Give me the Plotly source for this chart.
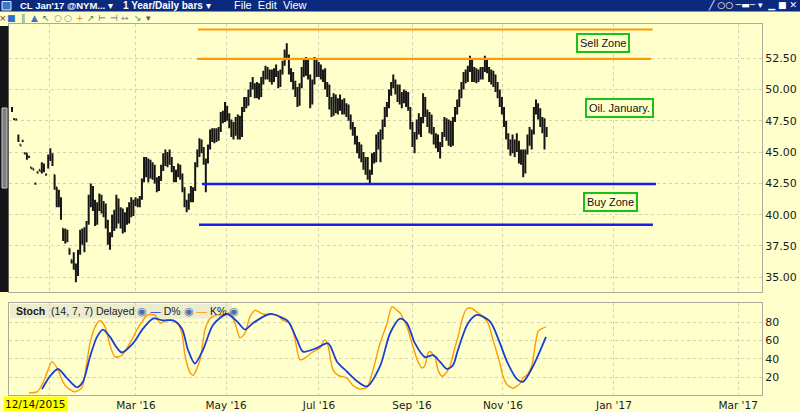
import plotly.graph_objects as go

# ---------------- data ----------------
first_date = "12/14/2015"

bar_open = [
    48.5, 47.65, 47.6, 46.2, 45.6, 45.9, 44.9, 44.9, 44.6, 43.8,
    43.7, 42.5, 43.4, 43.6, 43.4, 43.9, 43.2, 44.0, 44.6, 44.8,
    43.2, 42.2, 41.5, 41.0, 38.9, 38.0, 38.7, 37.3, 36.4, 36.0,
    35.8, 35.3, 37.0, 38.5, 37.9, 38.8, 39.4, 41.2, 41.9, 40.6,
    39.4, 40.9, 41.4, 40.4, 40.6, 39.2, 37.9, 38.5, 39.8, 39.0,
    41.1, 39.6, 40.3, 38.8, 39.9, 39.5, 40.8, 40.1, 41.0, 40.9,
    41.1, 41.4, 42.8, 44.3, 43.4, 44.2, 43.2, 43.9, 42.7, 42.1,
    42.9, 43.8, 44.6, 44.2, 44.8, 44.3, 43.6, 42.9, 43.4, 43.8,
    43.0, 42.0, 40.8, 40.6, 41.5, 41.3, 42.0, 44.0, 45.0, 45.8,
    45.2, 44.3, 44.2, 45.4, 46.5, 46.1, 46.7, 46.0, 46.8, 47.9,
    47.6, 48.6, 47.8, 47.2, 46.5, 47.2, 46.6, 47.8, 46.3, 48.4,
    49.2, 48.8, 49.7, 50.4, 50.2, 49.6, 50.3, 49.5, 50.8, 51.2,
    51.7, 51.0, 51.4, 50.7, 51.5, 51.3, 50.4, 51.4, 52.1, 52.9,
    52.7, 51.4, 50.9, 50.3, 49.7, 48.8, 50.3, 51.5, 51.3, 52.4,
    51.0, 49.0, 50.5, 52.2, 51.3, 51.9, 51.1, 51.4, 50.2, 49.6,
    48.6, 48.0, 49.4, 48.3, 49.0, 48.5, 48.9, 48.2, 48.6, 47.7,
    47.0, 46.6, 45.9, 45.2, 45.4, 44.4, 43.8, 44.4, 43.1, 43.3,
    44.6, 44.3, 46.1, 45.5, 46.4, 47.3, 48.4, 48.7, 49.8, 50.3,
    50.6, 49.8, 50.2, 49.0, 49.6, 49.2, 49.6, 48.5, 47.0, 45.7,
    46.3, 47.4, 46.7, 47.5, 49.2, 48.1, 47.3, 47.9, 46.6, 45.8,
    46.2, 45.3, 45.6, 46.4, 47.5, 46.1, 47.3, 45.6, 47.6, 48.4,
    48.9, 49.7, 50.4, 51.2, 50.8, 51.7, 52.2, 50.9, 51.5, 50.8,
    51.4, 51.0, 51.6, 52.3, 51.6, 50.9, 51.3, 50.5, 50.0, 49.6,
    48.9, 48.3, 47.2, 46.3, 45.4, 45.8, 45.1, 45.7, 45.3, 44.4,
    45.0, 43.4, 45.0, 46.2, 45.8, 46.6, 48.3, 48.8, 48.0, 47.2,
    47.6, 46.4]

bar_high = [
    48.6, 47.7, 47.6, 46.4, 45.6, 45.9, 44.9, 44.9, 44.7, 43.8,
    43.7, 42.5, 43.4, 43.6, 44.2, 44.1, 43.3, 44.8, 45.3, 44.9,
    43.2, 42.2, 42.0, 41.4, 38.9, 38.9, 38.8, 37.3, 36.4, 37.0,
    36.1, 37.2, 38.8, 38.9, 39.0, 39.5, 41.6, 42.5, 42.3, 41.2,
    41.0, 41.7, 41.6, 41.1, 40.9, 39.6, 38.6, 40.0, 40.4, 41.6,
    41.3, 40.6, 40.5, 40.2, 40.6, 41.0, 41.4, 41.2, 41.4, 41.3,
    41.5, 42.9, 44.6, 44.6, 44.5, 44.4, 44.2, 44.0, 43.0, 43.1,
    44.0, 44.9, 45.2, 45.0, 45.2, 44.6, 43.9, 43.6, 44.1, 44.0,
    43.3, 42.2, 41.2, 41.7, 42.3, 42.2, 44.2, 45.2, 46.1, 46.0,
    45.4, 44.5, 45.6, 46.8, 46.9, 46.9, 46.9, 47.0, 48.2, 48.3,
    49.0, 48.7, 48.1, 47.6, 47.4, 47.8, 48.0, 47.9, 48.6, 49.4,
    49.4, 50.0, 50.6, 51.0, 50.5, 50.6, 50.5, 51.0, 51.5, 51.9,
    51.8, 51.6, 51.6, 51.7, 52.0, 51.5, 51.6, 52.3, 53.2, 53.7,
    52.8, 51.7, 51.4, 50.7, 50.2, 50.5, 51.8, 52.5, 52.6, 52.5,
    51.2, 50.8, 52.6, 52.4, 52.2, 52.0, 51.6, 51.7, 50.6, 50.4,
    49.4, 49.7, 49.6, 49.3, 49.6, 49.2, 49.3, 48.9, 48.8, 48.0,
    47.4, 47.0, 46.3, 45.8, 45.6, 45.0, 44.6, 44.6, 43.6, 44.9,
    45.0, 46.4, 46.6, 46.8, 47.6, 48.6, 49.0, 50.0, 50.6, 51.2,
    50.8, 50.4, 50.4, 49.8, 50.0, 49.9, 49.8, 48.6, 47.4, 46.6,
    47.6, 48.1, 47.8, 49.7, 49.4, 48.4, 48.2, 48.0, 47.0, 46.5,
    46.4, 45.8, 46.6, 47.8, 47.7, 47.6, 47.5, 47.8, 48.6, 49.2,
    50.0, 50.6, 51.4, 51.6, 51.9, 52.7, 52.4, 51.8, 51.7, 51.6,
    51.8, 51.8, 52.7, 52.4, 51.8, 51.6, 51.5, 51.2, 50.6, 50.0,
    49.4, 48.6, 47.5, 46.5, 46.0, 46.4, 46.0, 46.5, 45.9, 45.2,
    45.2, 45.2, 46.4, 47.0, 46.8, 48.6, 49.2, 48.9, 48.5, 47.8,
    47.7, 47.0]

bar_low = [
    48.2, 47.6, 47.55, 45.8, 45.5, 45.8, 44.8, 44.4, 44.6, 43.7,
    43.6, 42.4, 43.3, 43.5, 43.3, 43.4, 43.2, 43.7, 44.3, 43.9,
    42.0, 40.6, 40.6, 39.6, 37.9, 37.7, 37.8, 36.8, 36.1, 35.6,
    34.6, 35.1, 36.8, 37.6, 37.0, 37.8, 39.2, 40.6, 40.3, 39.1,
    39.2, 40.3, 40.1, 39.8, 38.9, 37.6, 37.2, 38.2, 38.7, 38.9,
    39.3, 38.9, 38.5, 38.6, 39.2, 39.3, 39.8, 39.9, 40.7, 40.6,
    40.6, 41.2, 42.6, 43.0, 42.6, 42.9, 42.8, 42.5, 41.8, 41.9,
    42.7, 43.5, 43.9, 43.8, 44.0, 43.4, 42.6, 42.6, 43.0, 42.8,
    41.8, 40.6, 40.2, 40.4, 41.0, 41.0, 41.9, 43.8, 44.6, 44.9,
    44.0, 41.8, 44.1, 45.2, 45.8, 45.7, 45.8, 45.9, 46.6, 47.3,
    47.4, 47.5, 46.9, 46.2, 46.0, 46.3, 46.0, 46.0, 46.2, 48.2,
    48.5, 48.7, 49.4, 50.0, 49.3, 49.3, 49.2, 49.4, 50.4, 50.8,
    50.8, 50.6, 50.4, 50.6, 51.0, 50.1, 50.2, 51.2, 51.9, 52.4,
    51.2, 50.6, 50.0, 49.4, 48.6, 48.7, 50.1, 51.0, 51.1, 50.8,
    48.5, 48.8, 50.4, 51.0, 51.0, 50.8, 50.6, 50.0, 49.4, 48.4,
    47.8, 47.9, 48.1, 48.0, 48.3, 48.0, 48.0, 47.8, 47.5, 46.8,
    46.3, 45.6, 44.9, 44.5, 44.2, 43.6, 43.2, 42.8, 42.5, 43.2,
    44.1, 44.2, 45.2, 44.2, 46.0, 47.0, 47.8, 48.5, 49.5, 50.1,
    49.6, 49.0, 48.8, 48.5, 48.9, 48.6, 48.3, 46.8, 45.4, 44.9,
    46.0, 46.4, 46.2, 47.3, 47.8, 47.0, 46.5, 46.4, 45.6, 45.3,
    45.0, 44.5, 45.4, 46.2, 45.9, 45.5, 45.4, 45.5, 47.4, 48.0,
    48.6, 49.3, 50.0, 50.5, 50.6, 51.4, 50.6, 50.6, 50.5, 50.6,
    50.8, 50.8, 51.4, 51.3, 50.6, 50.4, 50.2, 49.8, 49.3, 48.6,
    48.0, 47.0, 46.0, 45.2, 44.7, 44.9, 44.6, 45.0, 44.1, 44.0,
    43.0, 43.3, 44.8, 45.5, 45.2, 46.4, 48.0, 47.6, 47.0, 46.5,
    45.2, 46.2]

bar_close = [
    48.3, 47.6, 47.6, 45.9, 45.5, 45.9, 44.9, 44.5, 44.6, 43.7,
    43.6, 42.5, 43.4, 43.5, 44.0, 43.6, 43.2, 44.6, 44.9, 44.1,
    42.2, 40.9, 41.4, 39.7, 38.1, 38.6, 37.9, 36.9, 36.2, 36.7,
    35.2, 36.9, 38.5, 37.9, 38.7, 39.2, 41.2, 42.0, 40.6, 39.4,
    40.8, 41.4, 40.4, 40.9, 39.2, 37.8, 38.4, 39.8, 38.9, 41.2,
    39.6, 40.3, 38.8, 39.9, 39.4, 40.8, 40.1, 41.0, 40.9, 41.1,
    41.4, 42.7, 44.3, 43.4, 44.2, 43.2, 43.9, 42.7, 42.1, 42.9,
    43.8, 44.6, 44.2, 44.8, 44.3, 43.6, 42.9, 43.4, 43.8, 43.0,
    42.0, 40.8, 40.5, 41.5, 41.2, 42.0, 44.0, 45.0, 45.8, 45.2,
    44.3, 44.2, 45.4, 46.5, 46.1, 46.7, 46.0, 46.8, 47.9, 47.6,
    48.6, 47.8, 47.2, 46.5, 47.2, 46.6, 47.8, 46.3, 48.4, 49.2,
    48.8, 49.7, 50.4, 50.2, 49.6, 50.3, 49.5, 50.8, 51.2, 51.7,
    51.0, 51.4, 50.7, 51.5, 51.3, 50.4, 51.4, 52.1, 52.9, 52.7,
    51.4, 50.9, 50.3, 49.7, 48.8, 50.3, 51.5, 51.3, 52.4, 51.0,
    49.0, 50.5, 52.2, 51.3, 51.9, 51.1, 51.4, 50.2, 49.6, 48.6,
    48.0, 49.4, 48.3, 49.0, 48.5, 48.9, 48.2, 48.6, 47.7, 47.0,
    46.6, 45.9, 45.2, 45.4, 44.4, 43.8, 44.4, 43.1, 43.3, 44.6,
    44.3, 46.1, 45.5, 46.4, 47.3, 48.4, 48.7, 49.8, 50.3, 50.6,
    49.8, 50.2, 49.0, 49.6, 49.2, 49.6, 48.5, 47.0, 45.7, 46.3,
    47.4, 46.7, 47.5, 49.2, 48.1, 47.3, 47.9, 46.6, 45.8, 46.2,
    45.3, 45.6, 46.4, 47.5, 46.1, 47.3, 45.6, 47.6, 48.4, 48.9,
    49.7, 50.4, 51.2, 50.8, 51.7, 52.2, 50.9, 51.5, 50.8, 51.4,
    51.0, 51.6, 52.3, 51.6, 50.9, 51.3, 50.5, 50.0, 49.6, 48.9,
    48.3, 47.2, 46.3, 45.4, 45.8, 45.1, 45.7, 45.3, 44.4, 45.0,
    43.4, 45.0, 46.2, 45.8, 46.6, 48.3, 48.8, 48.0, 47.2, 47.6,
    45.5, 46.8]

# Stochastic (14,7,7) read at bar positions
stoch_k_bar = [8.0, 11.7, 14.6, 16.4, 18.8, 21.6, 23.9, 25.8, 29.6, 32.9,
               34.7, 36.6, 39.0, 41.3, 43.7, 46.0, 48.4, 51.6, 54.0, 56.3,
               58.7, 61.5, 63.4, 67.1, 69.5, 72.8, 75.6, 77.9, 79.8, 81.2,
               83.6, 85.0, 88.3, 90.6, 93.0, 96.2, 99.1, 102.3, 104.7, 107.0,
               109.4, 111.7, 114.1, 117.8, 124.4, 127.2, 130.5, 132.9, 135.2, 137.6,
               140.8, 144.6, 146.9, 148.4, 150.7, 153.1, 157.3, 160.1, 163.4, 166.7,
               169.5, 172.8, 176.1, 178.4, 180.8, 182.2, 185.4, 188.3, 190.6, 192.5,
               193.9, 195.3, 196.2, 198.6, 200.0, 201.9, 204.2, 205.6, 208.0, 209.4,
               211.7, 213.6, 216.0, 218.3, 221.1, 223.5, 225.8, 229.1, 230.5, 232.4,
               235.2, 238.5, 239.9, 242.3, 244.1, 245.5, 247.0, 248.8, 250.7]
stoch_k = [3, 4, 14, 25, 37, 28, 15, 9, 4, 9,
           30, 57, 75, 82, 75, 55, 42, 44, 52, 61,
           72, 82, 88, 88, 79, 82, 82, 78, 68, 44,
           25, 22, 39, 72, 84, 88, 88, 90, 79, 63,
           68, 86, 93, 89, 88, 82, 79, 61, 39, 41,
           47, 52, 61, 54, 28, 22, 19, 11, 7, 9,
           28, 57, 79, 97, 93, 90, 75, 53, 37, 30,
           33, 46, 48, 42, 28, 21, 26, 32, 53, 64,
           86, 95, 95, 91, 86, 79, 61, 35, 21, 12,
           8, 13, 19, 24, 33, 53, 70, 73, 75]

stoch_d_bar = [14.1, 17.8, 21.6, 25.8, 30.5, 33.3, 36.6, 39.9, 42.7, 46.0,
               49.3, 51.6, 56.8, 61.5, 66.2, 70.9, 75.6, 79.8, 82.6, 85.9,
               89.7, 94.4, 100.9, 105.6, 109.4, 113.1, 121.1, 125.8, 129.6, 133.8,
               136.6, 143.2, 148.4, 152.6, 157.3, 162.4, 166.7, 172.8, 177.5, 182.2,
               185.4, 189.2, 193.9, 197.7, 200.9, 204.2, 207.0, 209.4, 214.1, 218.3,
               224.4, 229.1, 232.4, 237.1, 239.9, 244.6, 250.7]
stoch_d = [7, 21, 29, 19, 9, 15, 42, 64, 72, 64,
           52, 47, 57, 73, 84, 82, 82, 73, 50, 35,
           50, 77, 89, 81, 72, 79, 89, 86, 81, 61,
           48, 52, 57, 37, 26, 15, 10, 32, 68, 84,
           79, 57, 42, 44, 37, 29, 33, 50, 79, 88,
           81, 57, 37, 18, 15, 32, 64]

# horizontal zone lines
zone_levels = [54.80, 52.45, 42.45, 39.20]
zone_start_bar = [87.3, 86.9, 89.2, 87.8]
zone_end_bar = [300.8, 300.0, 302.3, 300.9]

zone_notes = ["Sell Zone", "Oil. January.", "Buy Zone"]

price_ticks = [35.0, 37.5, 40.0, 42.5, 45.0, 47.5, 50.0, 52.5]
price_tick_text = ["35.00", "37.50", "40.00", "42.50", "45.00", "47.50", "50.00", "52.50"]
stoch_ticks = [20, 40, 60, 80]
month_tick_bar = [17.4, 58.2, 100.5, 144.1, 187.8, 230.5, 282.6, 340.9]
month_tick_text = ["", "Mar '16", "May '16", "Jul '16", "Sep '16", "Nov '16", "Jan '17", "Mar '17"]

# ---------------- layout helpers ----------------
W, H = 800, 412
ML, MR, MT, MB = 9, 38, 24, 17
PW, PH = W - ML - MR, H - MT - MB
BAR0_PX, BAR_STEP_PX = 12.0, 2.13


def fx(px):
    return (px - ML) / PW


def fy(py):
    return (H - MB - py) / PH


x_range = [(ML - BAR0_PX) / BAR_STEP_PX, (W - MR - BAR0_PX) / BAR_STEP_PX]

BG = "#FFFFCC"
GRID = "#D4D4B4"
BORDER = "#ABAB9C"
ORANGE = "#FF9A00"
ZONE_BLUE = "#1B1BE8"
STOCH_BLUE = "#1A40D2"
BAR_COL = "#151515"

fig = go.Figure()

bar_index = list(range(len(bar_close)))
fig.add_trace(go.Ohlc(
    x=bar_index, open=bar_open, high=bar_high, low=bar_low, close=bar_close,
    increasing=dict(line=dict(color=BAR_COL, width=2)),
    decreasing=dict(line=dict(color=BAR_COL, width=2)),
    tickwidth=0.4, xaxis="x", yaxis="y", showlegend=False, hoverinfo="skip"))

zone_colors = [ORANGE, ORANGE, ZONE_BLUE, ZONE_BLUE]
zone_widths = [2.2, 2.2, 2.6, 2.6]
for lvl, x0, x1, col, wd in zip(zone_levels, zone_start_bar, zone_end_bar, zone_colors, zone_widths):
    fig.add_trace(go.Scatter(x=[x0, x1], y=[lvl, lvl], mode="lines",
                             line=dict(color=col, width=wd), xaxis="x", yaxis="y",
                             showlegend=False, hoverinfo="skip"))

fig.add_trace(go.Scatter(x=stoch_k_bar, y=stoch_k, mode="lines",
                         line=dict(color=ORANGE, width=1.4, shape="spline", smoothing=0.7),
                         xaxis="x2", yaxis="y2", showlegend=False, hoverinfo="skip"))
fig.add_trace(go.Scatter(x=stoch_d_bar, y=stoch_d, mode="lines",
                         line=dict(color=STOCH_BLUE, width=1.8, shape="spline", smoothing=0.8),
                         xaxis="x2", yaxis="y2", showlegend=False, hoverinfo="skip"))

axis_common = dict(showgrid=True, gridcolor=GRID, griddash="dot", gridwidth=1,
                   showline=True, linecolor=BORDER, linewidth=1, mirror=True,
                   zeroline=False, ticks="", automargin=False)

shapes = [
    # window title bar
    dict(type="rect", xref="paper", yref="paper", x0=fx(0), x1=fx(W), y0=fy(11.5), y1=fy(0),
         fillcolor="#0B2A7E", line=dict(width=0), layer="above"),
    # app icon
    dict(type="rect", xref="paper", yref="paper", x0=fx(2), x1=fx(11), y0=fy(10), y1=fy(1.5),
         fillcolor="#3A79C8", line=dict(color="#E8E8E8", width=1), layer="above"),
    # left dark strip and scroll thumb
    dict(type="rect", xref="paper", yref="paper", x0=fx(0), x1=fx(8.5), y0=fy(292), y1=fy(26),
         fillcolor="#161616", line=dict(width=0), layer="above"),
    dict(type="rect", xref="paper", yref="paper", x0=fx(2), x1=fx(7), y0=fy(188), y1=fy(108),
         fillcolor="#7E7E7E", line=dict(color="#C8C8C8", width=1), layer="above"),
    # stoch header band
    dict(type="rect", xref="paper", yref="paper", x0=fx(10), x1=fx(232), y0=fy(318.5), y1=fy(304),
         fillcolor="#ECECCE", line=dict(width=0), layer="below"),
]

annotations = []
# title bar texts
annotations.append(dict(xref="paper", yref="paper", x=fx(18), y=fy(5.5), xanchor="left", yanchor="middle",
                        text="<b>CL Jan'17 @NYM...</b> ▾", showarrow=False,
                        font=dict(family="Liberation Sans", size=9.5, color="white")))
annotations.append(dict(xref="paper", yref="paper", x=fx(121), y=fy(5.5), xanchor="left", yanchor="middle",
                        text="<b>1 Year/Daily bars</b> ▾", showarrow=False,
                        font=dict(family="Liberation Sans", size=10, color="white")))
annotations.append(dict(xref="paper", yref="paper", x=fx(232), y=fy(5.5), xanchor="left", yanchor="middle",
                        text="File&nbsp;&nbsp;Edit&nbsp;&nbsp;View", showarrow=False,
                        font=dict(family="Liberation Sans", size=11, color="white")))
annotations.append(dict(xref="paper", yref="paper", x=fx(799), y=fy(5.5), xanchor="right", yanchor="middle",
                        text="╱ ○○ ─▬─ ▾&nbsp;&nbsp;▁ ■ ✕", showarrow=False,
                        font=dict(family="DejaVu Sans", size=9, color="white")))
# toolbar glyphs
tool_glyphs = [("×", 3, "#444444"), ("■", 11, "#2F6FCF"), ("‖", 23, "#5A9A5A"), ("▲", 34, "#3C6FCC"),
               ("↖", 46, "#666666"), ("○", 58, "#888888"), ("○", 68, "#888888"), ("+", 80, "#E07A10"),
               ("↗", 91, "#2C9A3C"), ("⊢", 102, "#3060C0"), ("⊣", 114, "#3060C0"), ("↔", 125, "#8A8A8A"),
               ("↘", 138, "#7A7A7A"), ("▾", 148, "#555555")]
for g, gx, gc in tool_glyphs:
    annotations.append(dict(xref="paper", yref="paper", x=fx(gx), y=fy(18), xanchor="center", yanchor="middle",
                            text=g, showarrow=False, font=dict(family="DejaVu Sans", size=9, color=gc)))

# zone note boxes (data coordinates)
note_pos = [(277.5, 53.72), (285.0, 48.53), (280.8, 41.0)]
for txt, (nx, ny) in zip(zone_notes, note_pos):
    annotations.append(dict(xref="x", yref="y", x=nx, y=ny, text=txt, showarrow=False,
                            font=dict(family="Liberation Sans", size=11, color="#111111"),
                            bgcolor=BG, bordercolor="#19C219", borderwidth=2, borderpad=2))

# stoch header
icon = "<span style='color:#4F6FA8'>◉</span>"
header_text = ("<b>Stoch</b>&nbsp;&nbsp;(14, 7, 7) Delayed " + icon +
               " <span style='color:" + STOCH_BLUE + "'>—</span> D% " + icon +
               " <span style='color:" + ORANGE + "'>—</span> K% " + icon)
annotations.append(dict(xref="paper", yref="paper", x=fx(14), y=fy(311), xanchor="left", yanchor="middle",
                        text=header_text, showarrow=False,
                        font=dict(family="Liberation Sans", size=10.5, color="#1A1A1A")))
# first date label
annotations.append(dict(xref="paper", yref="paper", x=fx(3), y=fy(404), xanchor="left", yanchor="middle",
                        text=first_date, showarrow=False, bgcolor="#FFFF00", borderpad=1,
                        font=dict(family="DejaVu Sans", size=10.5, color="#111111")))

fig.update_layout(
    width=W, height=H, margin=dict(l=ML, r=MR, t=MT, b=MB, pad=0, autoexpand=False),
    paper_bgcolor=BG, plot_bgcolor=BG, showlegend=False, hovermode=False,
    font=dict(family="DejaVu Sans", size=11, color="#1A1A1A"),
    xaxis=dict(domain=[0, 1], anchor="y", range=x_range, tickvals=month_tick_bar,
               ticktext=month_tick_text, showticklabels=False,
               rangeslider=dict(visible=False), **axis_common),
    xaxis2=dict(domain=[0, 1], anchor="y2", range=x_range, matches="x", tickvals=month_tick_bar,
                ticktext=month_tick_text, showticklabels=True,
                tickfont=dict(family="DejaVu Sans", size=10.5, color="#1A1A1A"), **axis_common),
    yaxis=dict(domain=[fy(292), fy(24)], anchor="x", side="right", range=[33.82, 55.24],
               tickvals=price_ticks, ticktext=price_tick_text,
               tickfont=dict(family="DejaVu Sans", size=11, color="#1A1A1A"), **axis_common),
    yaxis2=dict(domain=[fy(395), fy(303)], anchor="x2", side="right", range=[0.6, 101],
                tickvals=stoch_ticks, ticktext=[str(v) for v in stoch_ticks],
                tickfont=dict(family="DejaVu Sans", size=11, color="#1A1A1A"), **axis_common),
    shapes=shapes, annotations=annotations,
)

fig.write_html("out.html", config={"displayModeBar": False},
               post_script="document.body.style.margin='0px';document.body.style.overflow='hidden';")
